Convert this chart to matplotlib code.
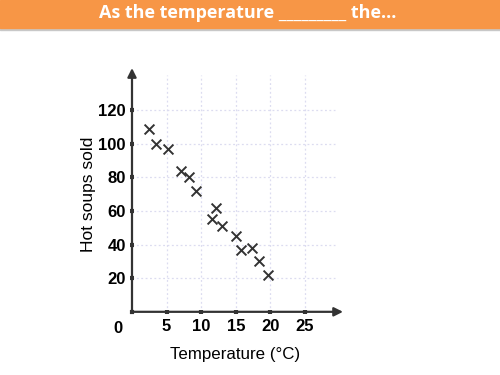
import matplotlib
matplotlib.use("Agg")
import matplotlib.pyplot as plt
from matplotlib.patches import Rectangle

# data
temperature = [2.5, 3.5, 5.2, 7.1, 8.3, 9.3, 12.1, 11.6, 13.0, 15.1, 15.8, 17.3, 18.3, 19.7]
soups_sold = [109, 100, 97, 84, 80, 72, 62, 55, 51, 45, 37, 38, 30, 22]
x_ticks = [5, 10, 15, 20, 25]
y_ticks = [20, 40, 60, 80, 100, 120]

title = "As the temperature _________ the\u2026"

plt.rcParams['font.family'] = ['Liberation Sans', 'DejaVu Sans']

fig = plt.figure(figsize=(5, 3.75), dpi=100)

# orange header band with a thin shadow under it
fig.patches.append(Rectangle((0, 1 - 29.5/375), 1, 1.5/375, transform=fig.transFigure,
                             color='#c8c8c8', zorder=0))
fig.patches.append(Rectangle((0, 1 - 28/375), 1, 28/375, transform=fig.transFigure,
                             color='#F79646', zorder=1))
fig.text(0.495, 1 - 13.5/375, title, color='white', fontsize=13, fontweight='bold',
         family=['Open Sans', 'DejaVu Sans'], ha='center', va='center')

ax = fig.add_axes([0.264, 0.1685, 0.422, 0.650])
ax.set_xlim(0, 30.5)
ax.set_ylim(0, 145)

for s in ax.spines.values():
    s.set_visible(False)

# dotted grid, limited like in the picture
for xv in x_ticks:
    ax.plot([xv, xv], [0, 141], color='#dcdcf0', lw=0.9, ls=(0, (1.5, 2)), zorder=1)
for yv in y_ticks:
    ax.plot([0, 29.3], [yv, yv], color='#dcdcf0', lw=0.9, ls=(0, (1.5, 2)), zorder=1)

# axes with arrow heads
ax.annotate('', xy=(0, 1), xytext=(0, 0), xycoords='axes fraction',
            arrowprops=dict(arrowstyle='-|>', color='#333333', lw=1.6,
                            mutation_scale=13, shrinkA=0, shrinkB=0))
ax.annotate('', xy=(1, 0), xytext=(0, 0), xycoords='axes fraction',
            arrowprops=dict(arrowstyle='-|>', color='#333333', lw=1.6,
                            mutation_scale=13, shrinkA=0, shrinkB=0))

ax.scatter(temperature, soups_sold, marker='x', s=50, color='#333333',
           linewidths=1.4, zorder=3)

ax.set_xticks([0] + x_ticks)
ax.set_xticklabels([''] + [str(v) for v in x_ticks])
ax.set_yticks([0] + y_ticks)
ax.set_yticklabels([''] + [str(v) for v in y_ticks])
ax.tick_params(direction='inout', length=3, width=3, color='#333333',
               labelsize=12, pad=3)
for lab in ax.get_xticklabels() + ax.get_yticklabels():
    lab.set_fontweight('bold')
ax.tick_params(axis='x', pad=4)

ax.text(-2, -10, '0', fontsize=12, fontweight='bold', ha='center', va='center')

ax.set_ylabel('Hot soups sold', fontsize=12.5)
ax.yaxis.set_label_coords(-0.205, 0.483)
ax.set_xlabel('Temperature (\u00b0C)', fontsize=12.2)
ax.xaxis.set_label_coords(0.49, -0.177)
ax.xaxis.label.set_va('center')
ax.yaxis.label.set_va('center')

fig.savefig('out.png', dpi=100)
